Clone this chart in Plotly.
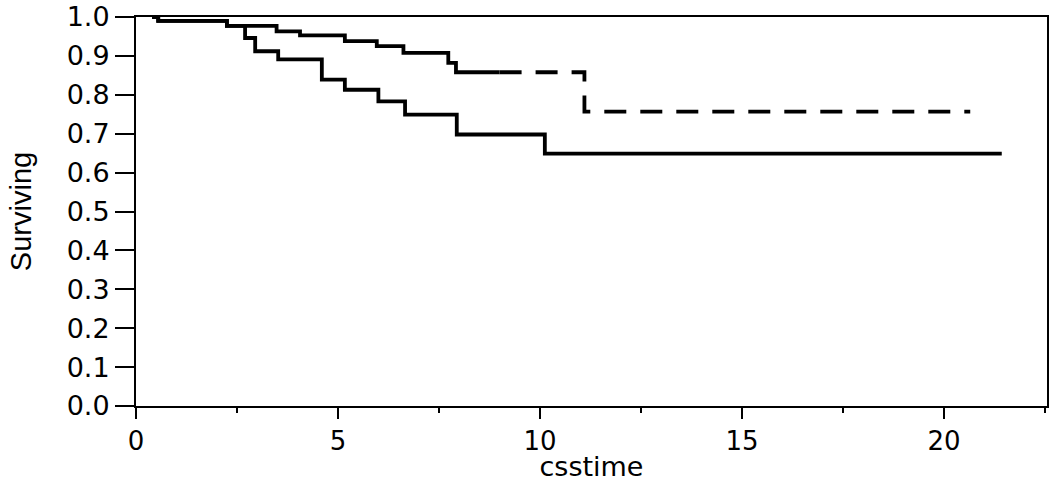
import plotly.graph_objects as go

# Kaplan-Meier step curves (csstime, surviving fraction)
lower_time = [0.4, 0.55, 2.25, 2.70, 2.95, 3.52, 4.60, 5.17, 6.00, 6.66, 7.94, 10.12, 21.43]
lower_surv = [1.0, 0.99, 0.977, 0.946, 0.912, 0.891, 0.839, 0.813, 0.783, 0.749, 0.698, 0.649, 0.649]

upper_time = [0.4, 0.55, 2.25, 3.48, 4.06, 5.17, 5.96, 6.62, 7.73, 7.92, 11.10, 20.65]
upper_surv = [1.0, 0.99, 0.977, 0.963, 0.953, 0.938, 0.925, 0.908, 0.882, 0.858, 0.757, 0.757]
upper_dash_from = 9.0  # the upper curve turns dashed from here on

x_ticks = [0, 5, 10, 15, 20]
y_ticks = [round(i * 0.1, 1) for i in range(11)]


def split_at(times, surv, cut):
    level = [s for t, s in zip(times, surv) if t <= cut][-1]
    head_t = [t for t in times if t <= cut] + [cut]
    head_s = [s for t, s in zip(times, surv) if t <= cut] + [level]
    tail_t = [cut] + [t for t in times if t > cut]
    tail_s = [level] + [s for t, s in zip(times, surv) if t > cut]
    return head_t, head_s, tail_t, tail_s


ut1, us1, ut2, us2 = split_at(upper_time, upper_surv, upper_dash_from)

fig = go.Figure()
line = dict(color="black", width=3.8, shape="hv")
fig.add_trace(go.Scatter(x=lower_time, y=lower_surv, mode="lines", line=line))
fig.add_trace(go.Scatter(x=ut1, y=us1, mode="lines", line=line))
fig.add_trace(go.Scatter(x=ut2, y=us2, mode="lines",
                         line=dict(line, dash="22px,14px")))

fig.update_layout(
    width=1050, height=482,
    margin=dict(l=136, r=3, t=17, b=76),
    plot_bgcolor="white", paper_bgcolor="white",
    showlegend=False,
    font=dict(family="DejaVu Sans", color="black"),
)
fig.update_xaxes(
    range=[0, 22.55], tickvals=x_ticks, ticks="outside", ticklen=11,
    tickwidth=2, tickcolor="black", showline=True, linecolor="black",
    linewidth=2, mirror=True, showgrid=False, zeroline=False,
    tickfont=dict(size=26), automargin=False,
    minor=dict(dtick=2.5, ticks="outside", ticklen=5, tickwidth=2, tickcolor="black"),
    title=dict(text="csstime", font=dict(size=27), standoff=5),
)
fig.update_yaxes(
    range=[0, 1.0], tickvals=y_ticks, tickformat=".1f", ticks="outside",
    ticklen=19, tickwidth=2, tickcolor="black", showline=True,
    linecolor="black", linewidth=2, mirror=True, showgrid=False,
    zeroline=False, tickfont=dict(size=27), automargin=False,
    ticklabeloverflow="allow",
    title=dict(text="Surviving", font=dict(family="Liberation Sans", size=29),
               standoff=26),
)

# drop the page's default body margin so the figure fills the window
fig.write_html("out.html", config={"displayModeBar": False},
               post_script="document.body.style.margin='0';")
